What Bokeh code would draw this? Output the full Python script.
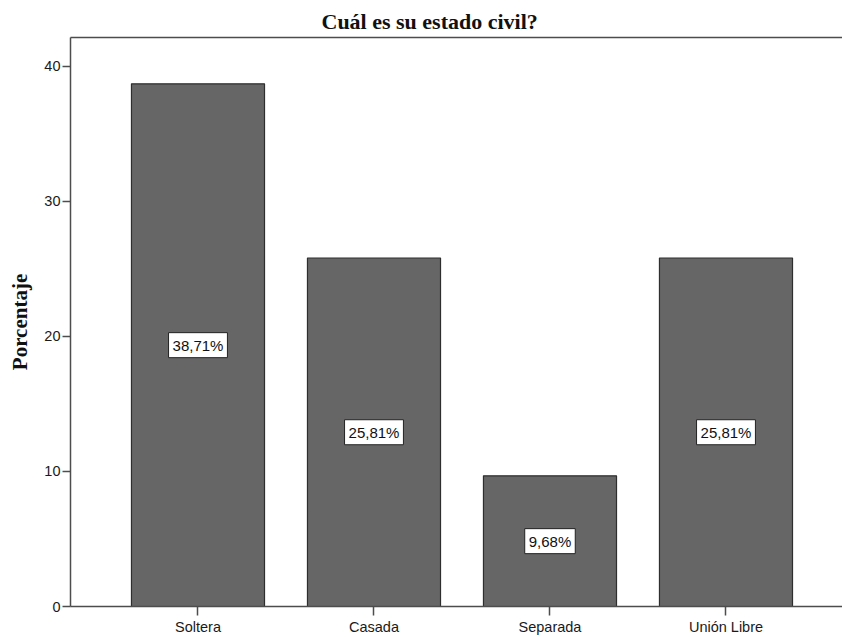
from bokeh.plotting import figure
from bokeh.models import ColumnDataSource, FixedTicker, LinearAxis, Range1d
from bokeh.core.properties import value
from bokeh.embed import file_html
from bokeh.resources import INLINE

title_text = "Cuál es su estado civil?"
y_label = "Porcentaje"
categories = ["Soltera", "Casada", "Separada", "Unión Libre"]
percentages = [38.71, 25.81, 9.68, 25.81]
y_ticks = [0, 10, 20, 30, 40]

positions = list(range(len(categories)))
labels = [f"{v:.2f}%".replace(".", ",") for v in percentages]
mids = [v / 2 for v in percentages]

src = ColumnDataSource(dict(x=positions, top=percentages, mid=mids, label=labels))

p = figure(width=842, height=637, output_backend="svg", toolbar_location=None,
           x_range=Range1d(-0.7244, 3.662), y_range=Range1d(0, 42.14),
           min_border_left=70, min_border_right=0, min_border_top=37, min_border_bottom=30)
p.xgrid.visible = False
p.ygrid.visible = False
p.outline_line_color = None
p.background_fill_color = "white"
p.border_fill_color = "white"

p.title.text = title_text
p.title.align = "left"
p.title.offset = 251
p.title.standoff = 7
p.title.text_font = "Liberation Serif"
p.title.text_font_style = "bold"
p.title.text_font_size = "22px"
p.title.text_color = "#111111"

p.vbar(x="x", top="top", width=0.756, source=src, fill_color="#666666",
       line_color="#2e2e2e", line_width=1.2)
p.text(x="x", y="mid", text="label", source=src, text_align="center", text_baseline="middle",
       text_font=value("Liberation Sans"), text_font_size="15px", text_color="#111111",
       background_fill_color="white", border_line_color="#222222", border_line_width=1,
       padding=4)

axis_color = "#4d4d4d"
xa = p.xaxis[0]
xa.ticker = FixedTicker(ticks=positions)
xa.major_label_overrides = {i: c for i, c in zip(positions, categories)}
xa.major_tick_out = 9
xa.major_tick_in = 0
xa.minor_tick_line_color = None
xa.axis_line_color = axis_color
xa.axis_line_width = 1.5
xa.major_tick_line_color = axis_color
xa.major_tick_line_width = 1.5
xa.major_label_standoff = 3
xa.major_label_text_font = "Liberation Sans"
xa.major_label_text_font_size = "14.5px"
xa.major_label_text_color = "#1a1a1a"

ya = p.yaxis[0]
ya.ticker = FixedTicker(ticks=y_ticks)
ya.major_tick_out = 8
ya.major_tick_in = 0
ya.minor_tick_line_color = None
ya.axis_line_color = axis_color
ya.axis_line_width = 1.5
ya.major_tick_line_color = axis_color
ya.major_tick_line_width = 1.5
ya.major_label_standoff = 2
ya.major_label_text_font = "Liberation Sans"
ya.major_label_text_font_size = "14.5px"
ya.major_label_text_color = "#1a1a1a"
ya.axis_label = y_label
ya.axis_label_text_font = "Liberation Serif"
ya.axis_label_text_font_style = "bold"
ya.axis_label_text_font_size = "21px"
ya.axis_label_text_color = "#111111"
ya.axis_label_standoff = 9

top_axis = LinearAxis(ticker=FixedTicker(ticks=[]), axis_line_color=axis_color,
                      axis_line_width=1.5, major_tick_line_color=None,
                      minor_tick_line_color=None, major_label_text_font_size="0px",
                      major_label_standoff=0, major_tick_out=0, major_tick_in=0)
p.add_layout(top_axis, "above")

open("out.html", "w").write(file_html(p, INLINE))
